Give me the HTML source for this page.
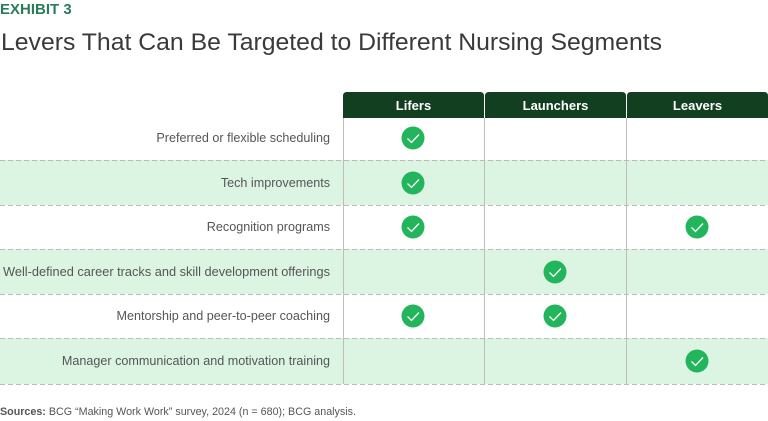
<!DOCTYPE html>
<html><head><meta charset="utf-8"><style>
html,body{margin:0;padding:0;background:#fff;width:768px;height:421px;overflow:hidden}
svg{display:block;font-family:"Liberation Sans",sans-serif}
</style></head><body>
<svg width="768" height="421" viewBox="0 0 768 421" xmlns="http://www.w3.org/2000/svg">
<text x="0" y="14" font-size="15" font-weight="bold" fill="#2a7d5c">EXHIBIT 3</text>
<text x="1" y="50" font-size="24" fill="#3a3a3a" textLength="661" lengthAdjust="spacingAndGlyphs">Levers That Can Be Targeted to Different Nursing Segments</text>
<rect x="0" y="160" width="768" height="45" fill="#dcf5e2"/>
<rect x="0" y="249" width="768" height="45" fill="#dcf5e2"/>
<rect x="0" y="338" width="768" height="46" fill="#dcf5e2"/>
<g stroke="#bbbbbb" stroke-width="1" stroke-dasharray="5,3">
<line x1="0" y1="160.5" x2="768" y2="160.5"/>
<line x1="0" y1="205.5" x2="768" y2="205.5"/>
<line x1="0" y1="249.5" x2="768" y2="249.5"/>
<line x1="0" y1="294.5" x2="768" y2="294.5"/>
<line x1="0" y1="338.5" x2="768" y2="338.5"/>
<line x1="0" y1="384.5" x2="768" y2="384.5"/>
</g>
<g stroke="#bdbdbd" stroke-width="1">
<line x1="343.5" y1="118" x2="343.5" y2="384"/>
<line x1="484.5" y1="118" x2="484.5" y2="384"/>
<line x1="626.5" y1="118" x2="626.5" y2="384"/>
</g>
<g fill="#123f1f">
<path d="M343 118 V96 Q343 92 347 92 H480 Q484 92 484 96 V118 Z"/>
<path d="M485 118 V96 Q485 92 489 92 H622 Q626 92 626 96 V118 Z"/>
<path d="M627 118 V96 Q627 92 631 92 H764 Q768 92 768 96 V118 Z"/>
</g>
<g fill="#fff" font-size="13" font-weight="bold" text-anchor="middle">
<text x="413.5" y="110">Lifers</text>
<text x="555.5" y="110">Launchers</text>
<text x="697.5" y="110">Leavers</text>
</g>
<g fill="#555" font-size="12.6" text-anchor="end">
<text x="330" y="142">Preferred or flexible scheduling</text>
<text x="330" y="187">Tech improvements</text>
<text x="330" y="231">Recognition programs</text>
<text x="330" y="276" textLength="327" lengthAdjust="spacingAndGlyphs">Well-defined career tracks and skill development offerings</text>
<text x="330" y="320">Mentorship and peer-to-peer coaching</text>
<text x="330" y="365">Manager communication and motivation training</text>
</g>
<defs>
<g id="ck"><circle r="11.5" fill="#22b55c"/><path d="M-5.5 0.5 L-1.5 4.5 L6 -3.5" fill="none" stroke="#fff" stroke-width="1.3"/></g>
</defs>
<use href="#ck" x="413" y="138"/>
<use href="#ck" x="413" y="183"/>
<use href="#ck" x="413" y="227"/>
<use href="#ck" x="697" y="227"/>
<use href="#ck" x="555" y="272"/>
<use href="#ck" x="413" y="316"/>
<use href="#ck" x="555" y="316"/>
<use href="#ck" x="697" y="361"/>
<text x="0" y="415" font-size="11" fill="#555" textLength="356" lengthAdjust="spacingAndGlyphs"><tspan font-weight="bold">Sources:</tspan> BCG “Making Work Work” survey, 2024 (n = 680); BCG analysis.</text>
</svg>
</body></html>
